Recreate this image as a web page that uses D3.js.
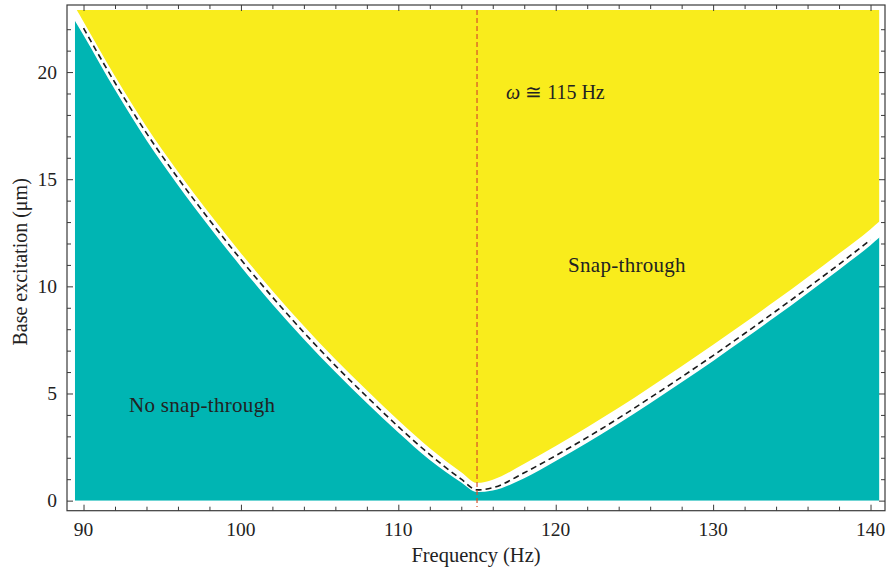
<!DOCTYPE html>
<html>
<head>
<meta charset="utf-8">
<script src="https://cdn.jsdelivr.net/npm/d3@7"></script>
<style>
  html, body { margin: 0; padding: 0; background: #fff; }
  svg text { font-family: "Liberation Serif", "Times New Roman", serif; fill: #222; }
</style>
</head>
<body>
<svg id="chart" width="887" height="576"></svg>
<script>
// Excitation frequency (Hz) sampled along the snap-through threshold
const freq = [89.45, 90, 92, 94, 96, 98, 100, 102, 104, 106, 108, 110, 112, 114, 115,
              116, 118, 120, 122, 124, 126, 128, 130, 132, 134, 136, 138, 140, 140.6];
// Threshold base excitation (um), the dashed boundary
const threshold = [22.75, 22.05, 19.5, 17.15, 15.05, 13.1, 11.25, 9.5, 7.85, 6.3, 4.85, 3.45, 2.15, 1.0, 0.5,
                   0.6, 1.3, 2.1, 2.95, 3.85, 4.8, 5.77, 6.77, 7.8, 8.85, 9.93, 11.03, 12.17, 12.55];
// Upper edge of the "no snap-through" region (um)
const noSnapTop = [22.4, 21.72, 19.17, 16.82, 14.72, 12.77, 10.92, 9.17, 7.53, 6.0, 4.56, 3.18, 1.9, 0.85, 0.4,
                   0.47, 1.05, 1.85, 2.7, 3.6, 4.55, 5.52, 6.52, 7.55, 8.6, 9.68, 10.78, 11.92, 12.3];
// Lower edge of the "snap-through" region (um)
const snapBottom = [23.05, 22.35, 19.8, 17.45, 15.35, 13.4, 11.55, 9.8, 8.15, 6.6, 5.15, 3.75, 2.45, 1.33, 0.83,
                    0.98, 1.72, 2.55, 3.42, 4.33, 5.29, 6.27, 7.27, 8.3, 9.35, 10.43, 11.53, 12.67, 13.05];

const xMajor = [90, 100, 110, 120, 130, 140];
const xMinor = [92, 94, 96, 98, 102, 104, 106, 108, 112, 114, 116, 118, 122, 124, 126, 128, 132, 134, 136, 138];
const yMajor = [0, 5, 10, 15, 20];
const yMinor = [1, 2, 3, 4, 6, 7, 8, 9, 11, 12, 13, 14, 16, 17, 18, 19, 21, 22];

const resonance = 115;          // Hz
const plotX = [89.45, 140.55];  // sampled frequency range
const plotY = [0, 22.9];        // sampled excitation range

const svg = d3.select("#chart");
const frame = { left: 67, right: 885, top: 5, bottom: 510.7 };

const x = d3.scaleLinear().domain([88.95, 140.92]).range([frame.left, frame.right]);
const y = d3.scaleLinear().domain([-0.47, 23.13]).range([frame.bottom, frame.top]);

const teal = "#00b5b3";
const yellow = "#f9ec1c";

// Clip to the sampled region
svg.append("defs").append("clipPath").attr("id", "region")
  .append("rect")
  .attr("x", x(plotX[0])).attr("y", y(plotY[1]))
  .attr("width", x(plotX[1]) - x(plotX[0]))
  .attr("height", y(plotY[0]) - y(plotY[1]));

const rows = freq.map((f, i) => ({ f, t: threshold[i], lo: noSnapTop[i], hi: snapBottom[i] }));
const curve = d3.curveMonotoneX;

const g = svg.append("g").attr("clip-path", "url(#region)");

// Snap-through region (above the threshold)
g.append("path")
  .datum(rows)
  .attr("fill", yellow)
  .attr("d", d3.area().curve(curve)
    .x(d => x(d.f))
    .y0(d => y(d.hi))
    .y1(() => y(plotY[1]) - 2));

// No snap-through region (below the threshold)
g.append("path")
  .datum(rows)
  .attr("fill", teal)
  .attr("d", d3.area().curve(curve)
    .x(d => x(d.f))
    .y0(() => y(plotY[0]))
    .y1(d => y(d.lo)));

// Threshold curve
svg.append("path")
  .datum(rows.filter(d => d.f >= 90 && d.f <= 140))
  .attr("fill", "none")
  .attr("stroke", "#1a1a1a")
  .attr("stroke-width", 1.6)
  .attr("stroke-dasharray", "6,4")
  .attr("d", d3.line().curve(curve).x(d => x(d.f)).y(d => y(d.t)));

// Resonance marker
svg.append("line")
  .attr("x1", x(resonance)).attr("x2", x(resonance))
  .attr("y1", y(plotY[1])).attr("y2", y(-0.3))
  .attr("stroke", "#d6502a")
  .attr("stroke-width", 1.2)
  .attr("stroke-dasharray", "5,3");

// Frame with inward ticks on all four sides
function ticks(axis, values, size) {
  return axis.tickValues(values).tickSize(size).tickSizeOuter(0).tickFormat("");
}
const frameColor = "#3a3a3a";
function styleAxis(sel) {
  sel.select(".domain").remove();
  sel.selectAll(".tick line").attr("stroke", frameColor).attr("stroke-width", 1);
  sel.selectAll(".tick text").remove();
}
[[d3.axisBottom(x), `translate(0,${frame.bottom})`, xMajor, -6],
 [d3.axisBottom(x), `translate(0,${frame.bottom})`, xMinor, -4],
 [d3.axisTop(x), `translate(0,${frame.top})`, xMajor, -6],
 [d3.axisTop(x), `translate(0,${frame.top})`, xMinor, -4],
 [d3.axisLeft(y), `translate(${frame.left},0)`, yMajor, -6],
 [d3.axisLeft(y), `translate(${frame.left},0)`, yMinor, -4],
 [d3.axisRight(y), `translate(${frame.right},0)`, yMajor, -6],
 [d3.axisRight(y), `translate(${frame.right},0)`, yMinor, -4]
].forEach(([axis, tr, vals, size]) => {
  svg.append("g").attr("transform", tr).call(ticks(axis, vals, size)).call(styleAxis);
});

svg.append("rect")
  .attr("x", frame.left).attr("y", frame.top)
  .attr("width", frame.right - frame.left).attr("height", frame.bottom - frame.top)
  .attr("fill", "none").attr("stroke", frameColor).attr("stroke-width", 1.2);

// Tick labels
svg.append("g").selectAll("text").data(xMajor).join("text")
  .attr("x", d => x(d)).attr("y", 536)
  .attr("text-anchor", "middle").attr("font-size", 19.5)
  .text(d => d);

svg.append("g").selectAll("text").data(yMajor).join("text")
  .attr("x", 57).attr("y", d => y(d)).attr("dy", "0.34em")
  .attr("text-anchor", "end").attr("font-size", 19.5)
  .text(d => d);

// Axis titles
svg.append("text")
  .attr("x", (frame.left + frame.right) / 2).attr("y", 562)
  .attr("text-anchor", "middle").attr("font-size", 20.5)
  .text("Frequency (Hz)");

svg.append("text")
  .attr("transform", `translate(27,${(frame.top + frame.bottom) / 2 + 4}) rotate(-90)`)
  .attr("text-anchor", "middle").attr("font-size", 20)
  .text("Base excitation (\u03bcm)");

// Region annotations
svg.append("text")
  .attr("x", 129).attr("y", 412).attr("font-size", 21).attr("letter-spacing", 0.3)
  .text("No snap-through");

svg.append("text")
  .attr("x", 568).attr("y", 272).attr("font-size", 21).attr("letter-spacing", 0.3)
  .text("Snap-through");

const omega = svg.append("text")
  .attr("x", 506).attr("y", 99).attr("font-size", 20);
omega.append("tspan").attr("font-style", "italic").text("\u03c9");
omega.append("tspan").text(" \u2245 115 Hz");
</script>
</body>
</html>
